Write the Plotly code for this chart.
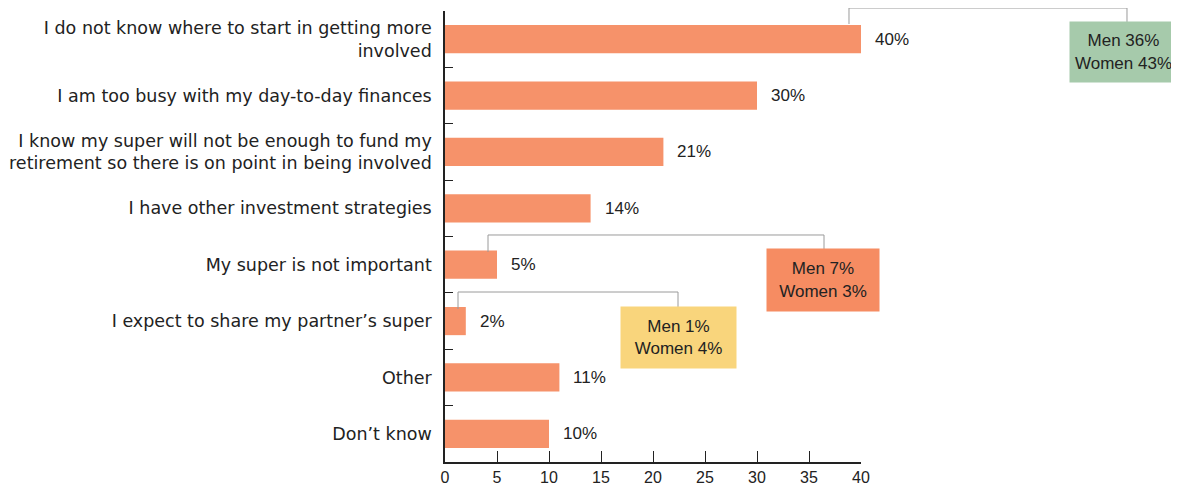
import plotly.graph_objects as go

# survey responses (top to bottom)
categories = [
    "I do not know where to start in getting more<br>involved",
    "I am too busy with my day-to-day finances",
    "I know my super will not be enough to fund my<br>retirement so there is on point in being involved",
    "I have other investment strategies",
    "My super is not important",
    "I expect to share my partner\u2019s super",
    "Other",
    "Don\u2019t know",
]
values = [40, 30, 21, 14, 5, 2, 11, 10]
x_ticks = [0, 5, 10, 15, 20, 25, 30, 35, 40]

# gender breakdown callouts
callout_text = ["Men 36%<br>Women 43%", "Men 7%<br>Women 3%", "Men 1%<br>Women 4%"]
callout_color = ["#a6caab", "#f68c62", "#f9d57c"]

OFF = 8  # page body margin
W, H = 1179 - OFF, 489 - OFF
L, R, T, B = 437, 318, 3, 27


def px(x):
    return (x - OFF - L) / (W - L - R)


def py(y):
    return (H - B - (y - OFF)) / (H - T - B)


bar_color = "#f6926a"
num_font = "Liberation Sans, Arial, sans-serif"
lab_font = "DejaVu Sans, sans-serif"

fig = go.Figure()
fig.add_trace(go.Bar(
    x=values, y=categories, orientation="h",
    marker=dict(color=bar_color, line=dict(width=0)),
    width=0.5, hoverinfo="skip",
))

# value labels next to bars
for c, v in zip(categories, values):
    fig.add_annotation(x=v, y=c, text=f"{v}%", showarrow=False,
                       xanchor="left", xshift=12,
                       font=dict(family=num_font, size=17, color="#222"))

# callout boxes: (center x, center y, width, height) in screen pixels
boxes = [(1123, 52, 107, 60), (823, 280, 112, 62), (678, 337, 115, 61)]
for (cx, cy, bw, bh), txt, col in zip(boxes, callout_text, callout_color):
    fig.add_annotation(x=px(cx), y=py(cy), xref="paper", yref="paper",
                       xanchor="center", yanchor="middle",
                       text=txt, showarrow=False, bgcolor=col,
                       width=bw, height=bh, borderpad=0,
                       font=dict(family=num_font, size=17, color="#222"),
                       align="center")

# bracket connectors (screen pixel paths)
brackets = [
    [(849, 24), (849, 8), (1127, 8), (1127, 22)],
    [(488, 252), (488, 235), (824, 235), (824, 249)],
    [(458, 309), (458, 292), (678, 292), (678, 307)],
]
for pts in brackets:
    path = "M " + " L ".join(f"{px(a):.5f},{py(b):.5f}" for a, b in pts)
    fig.add_shape(type="path", path=path, xref="paper", yref="paper",
                  line=dict(color="#9a9a9a", width=1))

fig.update_layout(
    width=W, height=H,
    margin=dict(l=L, r=R, t=T, b=B, autoexpand=False),
    plot_bgcolor="white", paper_bgcolor="white",
    font=dict(family=num_font, size=16, color="#222"),
    showlegend=False,
)
fig.update_xaxes(
    range=[0, 40], tickvals=x_ticks, ticks="inside", ticklen=11,
    tickcolor="#222", showline=True, linecolor="#222", linewidth=1.5,
    showgrid=False, zeroline=False, tickfont=dict(size=16),
)
fig.update_yaxes(
    autorange="reversed", tickson="boundaries", ticks="inside", ticklen=8,
    tickcolor="#222", showline=True, linecolor="#222", linewidth=1.5,
    showgrid=False, ticklabelstandoff=8,
    tickfont=dict(family=lab_font, size=17.5, color="#222"),
)

fig.write_html("out.html")
